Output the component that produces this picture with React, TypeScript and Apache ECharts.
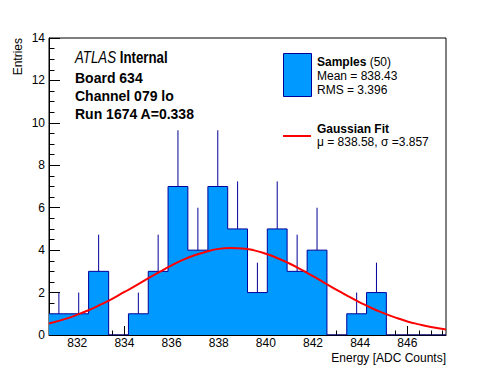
import React, { useEffect, useRef } from "react";
import * as echarts from "echarts";

// Histogram bins (lower edges + last upper edge), counts and sqrt(N) error sizes
const binEdges = [830.80, 831.64, 832.48, 833.33, 834.17, 835.01, 835.85, 836.69, 837.54, 838.38, 839.22, 840.06, 840.90, 841.75, 842.59, 843.43, 844.27, 845.11, 845.96, 846.80, 847.64];
const counts = [1, 1, 3, 0, 1, 3, 7, 4, 7, 5, 2, 5, 3, 4, 0, 1, 2, 0, 0, 0];
const errors = [1, 1, 1.73, 0, 1, 1.73, 2.65, 2, 2.65, 2.24, 1.41, 2.24, 1.73, 2, 0, 1, 1.41, 0, 0, 0];

// Gaussian fit curve
const fitX = [830.8, 831.5, 832, 832.5, 833, 833.5, 834, 834.5, 835, 835.5, 836, 836.5, 837, 837.5, 838, 838.5, 839, 839.5, 840, 840.5, 841, 841.5, 842, 842.5, 843, 843.5, 844, 844.5, 845, 845.5, 846, 846.5, 847, 847.64];
const fitY = [0.54, 0.76, 0.96, 1.18, 1.44, 1.72, 2.03, 2.34, 2.67, 2.98, 3.28, 3.55, 3.77, 3.94, 4.06, 4.10, 4.08, 3.99, 3.83, 3.62, 3.37, 3.08, 2.77, 2.45, 2.13, 1.82, 1.53, 1.26, 1.03, 0.82, 0.64, 0.50, 0.38, 0.26];

const xMajorTicks = [832, 834, 836, 838, 840, 842, 844, 846];
const xMinorTicks = [831, 831.5, 832.5, 833, 833.5, 834.5, 835, 835.5, 836.5, 837, 837.5, 838.5, 839, 839.5, 840.5, 841, 841.5, 842.5, 843, 843.5, 844.5, 845, 845.5, 846.5, 847, 847.5];

const xMin = 830.8;
const xMax = 847.64;
const yMin = 0;
const yMax = 14;
const yStep = 2;

const FONT = "'Liberation Sans', Arial, Helvetica, sans-serif";
const FILL = "#0099ff";
const EDGE = "#000099";

export default function App() {
  const ref = useRef<HTMLDivElement>(null);

  useEffect(() => {
    if (!ref.current) return;
    const chart = echarts.init(ref.current, undefined, { renderer: "svg" });

    const histData: number[][] = counts.map((c, i) => [binEdges[i], c]);
    histData.push([binEdges[binEdges.length - 1], counts[counts.length - 1]]);

    const errData: number[][] = [];
    counts.forEach((c, i) => {
      if (c > 0 && errors[i] > 0) {
        errData.push([(binEdges[i] + binEdges[i + 1]) / 2, c, errors[i]]);
      }
    });

    const fitData = fitX.map((x, i) => [x, fitY[i]]);

    const axisFont = { color: "#000", fontSize: 12, fontFamily: FONT };

    const txt = (text: string, x: number, y: number, weight = "normal", size = 12) => ({
      type: "text",
      x,
      y,
      style: {
        text,
        fill: "#000",
        fontSize: size,
        fontWeight: weight,
        fontFamily: FONT,
        lineHeight: size,
        verticalAlign: "middle",
      },
    });

    chart.setOption({
      animation: false,
      backgroundColor: "#fff",
      grid: {
        left: 49,
        right: 50,
        top: 38,
        bottom: 37,
        show: true,
        borderColor: "#000",
        borderWidth: 1,
        backgroundColor: "transparent",
      },
      xAxis: [
        {
          type: "value",
          min: xMin,
          max: xMax,
          position: "bottom",
          axisLine: { show: true, onZero: false, lineStyle: { color: "#000", width: 1 } },
          axisTick: { show: true, inside: true, length: 9, customValues: xMajorTicks, lineStyle: { color: "#000" } },
          axisLabel: { show: true, customValues: xMajorTicks, margin: 2, lineHeight: 12, ...axisFont },
          splitLine: { show: false },
        },
        {
          type: "value",
          min: xMin,
          max: xMax,
          position: "bottom",
          axisLine: { show: false },
          axisTick: { show: true, inside: true, length: 4.5, customValues: xMinorTicks, lineStyle: { color: "#000" } },
          axisLabel: { show: false },
          splitLine: { show: false },
        },
      ],
      yAxis: {
        type: "value",
        min: yMin,
        max: yMax,
        interval: yStep,
        axisLine: { show: true, onZero: false, lineStyle: { color: "#000", width: 1 } },
        axisTick: { show: true, inside: true, length: 11, lineStyle: { color: "#000" } },
        minorTick: { show: true, splitNumber: 4, length: 5.5, lineStyle: { color: "#000" } },
        axisLabel: { margin: 4, ...axisFont },
        splitLine: { show: false },
      },
      series: [
        {
          type: "line",
          xAxisIndex: 0,
          step: "end",
          data: histData,
          symbol: "none",
          lineStyle: { color: EDGE, width: 1 },
          areaStyle: { color: FILL, opacity: 1 },
          z: 2,
        },
        {
          type: "custom",
          xAxisIndex: 0,
          data: errData,
          renderItem: (params: any, api: any) => {
            const x = api.value(0);
            const y = api.value(1);
            const e = api.value(2);
            const p0 = api.coord([x, y]);
            const p1 = api.coord([x, y + e]);
            return {
              type: "line",
              shape: { x1: p0[0], y1: p0[1], x2: p1[0], y2: p1[1] },
              style: { stroke: EDGE, lineWidth: 1 },
            };
          },
          z: 3,
        },
        {
          type: "line",
          xAxisIndex: 0,
          data: fitData,
          smooth: true,
          symbol: "none",
          lineStyle: { color: "#ff0000", width: 2 },
          z: 4,
        },
      ],
      graphic: [
        {
          type: "text",
          x: 18,
          y: 38,
          rotation: Math.PI / 2,
          style: { text: "Entries", fill: "#000", font: `12px ${FONT}`, align: "right", verticalAlign: "middle" },
        },
        {
          type: "text",
          x: 446,
          y: 358,
          style: { text: "Energy [ADC Counts]", fill: "#000", font: `12px ${FONT}`, lineHeight: 12, align: "right", verticalAlign: "middle" },
        },
        {
          type: "text",
          x: 75,
          y: 58,
          scaleX: 0.83,
          style: {
            text: "{i|ATLAS} {b|Internal}",
            verticalAlign: "middle",
            fontSize: 16,
            fontFamily: FONT,
            rich: {
              i: { fontStyle: "italic", fontSize: 16, fontFamily: FONT, fill: "#000" },
              b: { fontWeight: "bold", fontSize: 16, fontFamily: FONT, fill: "#000" },
            },
          },
        },
        txt("Board 634", 75, 78, "bold", 14),
        txt("Channel 079 lo", 75, 96, "bold", 14),
        txt("Run 1674 A=0.338", 75, 114, "bold", 14),
        {
          type: "rect",
          shape: { x: 283.5, y: 53.5, width: 28, height: 43 },
          style: { fill: FILL, stroke: EDGE, lineWidth: 1 },
        },
        {
          type: "text",
          x: 317,
          y: 62,
          style: {
            text: "{b|Samples} (50)",
            verticalAlign: "middle",
            fill: "#000",
            fontSize: 12,
            lineHeight: 12,
            fontFamily: FONT,
            rich: {
              b: { fontWeight: "bold", fontSize: 12, lineHeight: 12, fontFamily: FONT, fill: "#000" },
            },
          },
        },
        txt("Mean = 838.43", 317, 76),
        txt("RMS = 3.396", 317, 90),
        {
          type: "line",
          shape: { x1: 283, y1: 136, x2: 311, y2: 136 },
          style: { stroke: "#ff0000", lineWidth: 2 },
        },
        txt("Gaussian Fit", 317, 128.5, "bold"),
        txt("\u03bc = 838.58, \u03c3 =3.857", 317, 141.5),
      ],
    });

    return () => chart.dispose();
  }, []);

  return (
    <div
      ref={ref}
      style={{ position: "fixed", left: 0, top: 0, width: 496, height: 372, background: "#fff" }}
    />
  );
}
